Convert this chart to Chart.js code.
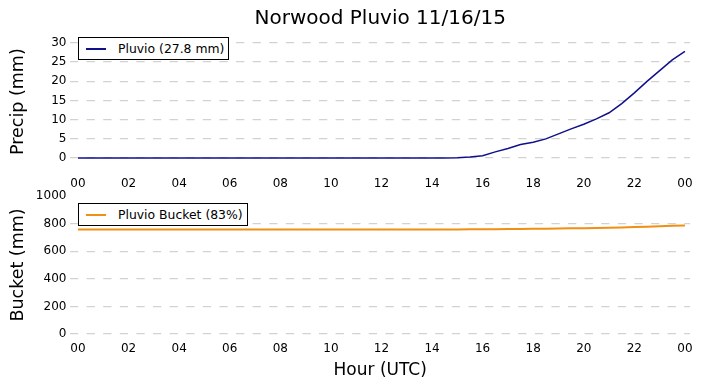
<!DOCTYPE html>
<html>
<head>
<meta charset="utf-8">
<script src="https://cdn.jsdelivr.net/npm/chart.js@4/dist/chart.umd.min.js"></script>
<style>
    html, body { margin: 0; padding: 0; background: #fff; }
    body { width: 703px; height: 388px; position: relative; overflow: hidden; font-family: "DejaVu Sans", sans-serif; }
    canvas { position: absolute; left: 0; }
    #precipChart { top: 0; }
    #bucketChart { top: 190px; }
    .legend { position: absolute; left: 78px; height: 23px; box-sizing: border-box; border: 1px solid #000; background: #fff;
              display: flex; align-items: center; font-size: 12.4px; color: #000; padding: 0 4px 0 7px; white-space: nowrap; }
    .legend .swatch { width: 20px; height: 0; margin-right: 12px; }
</style>
</head>
<body>
<canvas id="precipChart" width="703" height="190"></canvas>
<canvas id="bucketChart" width="703" height="198"></canvas>
<div class="legend" id="precipLegend" style="top:37px"></div>
<div class="legend" id="bucketLegend" style="top:203px"></div>
<script>
// hours since 00 UTC
const hours = [0, 2, 4, 6, 8, 10, 12, 14, 14.5, 15, 15.5, 16, 16.5, 17, 17.5, 18, 18.5, 19, 19.5, 20, 20.5, 21, 21.5, 22, 22.5, 23, 23.5, 24];
// accumulated precip (mm)
const precip = [0, 0, 0, 0, 0, 0, 0, 0, 0, 0.05, 0.25, 0.6, 1.6, 2.5, 3.5, 4.1, 5.0, 6.3, 7.6, 8.8, 10.2, 11.8, 14.2, 17.0, 20.0, 22.8, 25.6, 27.8];
// bucket content (mm)
const bucket = [758, 758, 758, 758, 758, 758, 758, 758, 758, 758, 758.3, 758.6, 759.6, 760.5, 761.5, 762, 763, 764.3, 765.6, 766.8, 768.2, 769.8, 772.2, 775, 778, 780.8, 783.6, 785.8];

const hourTicks = [0, 2, 4, 6, 8, 10, 12, 14, 16, 18, 20, 22, 24];
const hourLabels = ['00', '02', '04', '06', '08', '10', '12', '14', '16', '18', '20', '22', '00'];
const precipTicks = [0, 5, 10, 15, 20, 25, 30];
const bucketTicks = [0, 200, 400, 600, 800, 1000];

const precipLabel = 'Pluvio (27.8 mm)';
const bucketLabel = 'Pluvio Bucket (83%)';
const precipColor = '#10108c';
const bucketColor = '#ef9015';

const font = { family: '"DejaVu Sans", sans-serif', size: 12 };
const titleFont = { family: '"DejaVu Sans", sans-serif', size: 17.5 };

function xAxis(height, pad, title) {
    return {
        type: 'linear',
        min: -0.3,
        max: 24.2,
        afterBuildTicks: s => { s.ticks = hourTicks.map(v => ({ value: v })); },
        afterFit: s => { s.height = height; s.paddingLeft = 0; s.paddingRight = 0; },
        grid: { display: false, drawTicks: false },
        border: { display: false },
        ticks: {
            padding: pad,
            color: '#000',
            font: font,
            maxRotation: 0,
            callback: v => hourLabels[hourTicks.indexOf(v)]
        },
        title: title
    };
}

function yAxis(min, max, ticks, text, hideTop) {
    return {
        min: min,
        max: max,
        afterBuildTicks: s => { s.ticks = ticks.map(v => ({ value: v })); },
        afterFit: s => { s.width = 70.4; s.paddingTop = 0; s.paddingBottom = 0; },
        grid: {
            drawTicks: false,
            lineWidth: 1.3,
            color: ctx => (hideTop && ctx.tick && ctx.tick.value === max) ? 'rgba(0,0,0,0)' : '#d2d2d2'
        },
        border: { display: false, dash: [8.3, 8.3] },
        ticks: { padding: 4, color: '#000', font: font, callback: v => String(v) },
        title: { display: true, text: text, color: '#000', font: titleFont, padding: { top: 8, bottom: 0 } }
    };
}

function lineData(values, label, color, width) {
    return {
        datasets: [{
            label: label,
            data: hours.map((h, i) => ({ x: h, y: values[i] })),
            borderColor: color,
            backgroundColor: color,
            borderWidth: width,
            pointRadius: 0,
            tension: 0,
            fill: false
        }]
    };
}

function makeLegend(id, label, color, width) {
    const el = document.getElementById(id);
    const sw = document.createElement('span');
    sw.className = 'swatch';
    sw.style.borderTop = width + 'px solid ' + color;
    el.appendChild(sw);
    el.appendChild(document.createTextNode(label));
}

new Chart(document.getElementById('precipChart'), {
    type: 'line',
    data: lineData(precip, precipLabel, precipColor, 1.5),
    options: {
        responsive: false,
        animation: false,
        devicePixelRatio: 1,
        layout: { padding: { top: 0, right: 13, bottom: 0, left: 0 } },
        plugins: {
            legend: { display: false },
            tooltip: { enabled: false },
            title: {
                display: true,
                fullSize: false,
                text: 'Norwood Pluvio 11/16/15',
                color: '#000',
                font: { family: '"DejaVu Sans", sans-serif', size: 20, weight: 'normal', lineHeight: 1.2 },
                padding: { top: 7, bottom: 2 }
            }
        },
        scales: {
            x: xAxis(19.7, 6, { display: false }),
            y: yAxis(-3.2, 32.6, precipTicks, 'Precip (mm)', false)
        }
    }
});

new Chart(document.getElementById('bucketChart'), {
    type: 'line',
    data: lineData(bucket, bucketLabel, bucketColor, 2),
    options: {
        responsive: false,
        animation: false,
        devicePixelRatio: 1,
        layout: { padding: { top: 6, right: 13, bottom: 0, left: 0 } },
        plugins: { legend: { display: false }, tooltip: { enabled: false } },
        scales: {
            x: xAxis(54, 8, { display: true, text: 'Hour (UTC)', color: '#000', font: { family: '"DejaVu Sans", sans-serif', size: 17 }, padding: { top: 2, bottom: 7 } }),
            y: yAxis(0, 1000, bucketTicks, 'Bucket (mm)', true)
        }
    }
});

makeLegend('precipLegend', precipLabel, precipColor, 2);
makeLegend('bucketLegend', bucketLabel, bucketColor, 2);
</script>
</body>
</html>
